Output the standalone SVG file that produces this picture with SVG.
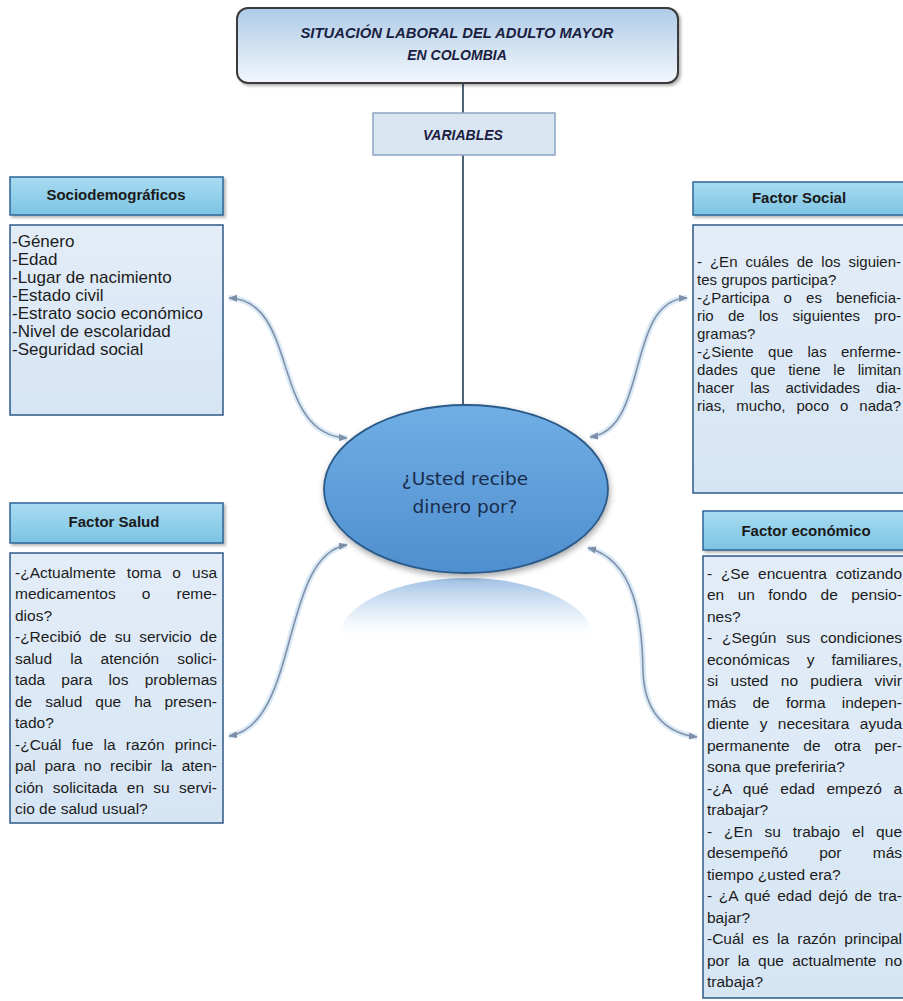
<svg xmlns="http://www.w3.org/2000/svg" width="903" height="1001" viewBox="0 0 903 1001">
<defs>
<linearGradient id="gTitle" x1="0" y1="0" x2="0" y2="1"><stop offset="0" stop-color="#aecbe8"/><stop offset="1" stop-color="#f2f7fc"/></linearGradient>
<linearGradient id="gHead" x1="0" y1="0" x2="0" y2="1"><stop offset="0" stop-color="#a9dcf1"/><stop offset="1" stop-color="#7cc3e3"/></linearGradient>
<linearGradient id="gBody" x1="0" y1="0" x2="0" y2="1"><stop offset="0" stop-color="#e3edf8"/><stop offset="1" stop-color="#d6e5f4"/></linearGradient>
<linearGradient id="gEll" x1="0" y1="0" x2="0" y2="1"><stop offset="0" stop-color="#70aee5"/><stop offset="1" stop-color="#4f8fcf"/></linearGradient>
<linearGradient id="gRefl" x1="0" y1="0" x2="0" y2="1"><stop offset="0" stop-color="#8fb6e0" stop-opacity="0.85"/><stop offset="0.6" stop-color="#d7e6f5" stop-opacity="0.6"/><stop offset="1" stop-color="#ffffff" stop-opacity="0"/></linearGradient>
<filter id="sh" x="-10%" y="-10%" width="130%" height="140%"><feDropShadow dx="2" dy="2" stdDeviation="1.5" flood-color="#000" flood-opacity="0.3"/></filter>
<filter id="shE" x="-10%" y="-10%" width="130%" height="140%"><feDropShadow dx="1" dy="3" stdDeviation="3" flood-color="#000" flood-opacity="0.35"/></filter>
<marker id="ah" viewBox="0 0 10 10" refX="9" refY="5" markerWidth="9" markerHeight="9" markerUnits="userSpaceOnUse" orient="auto-start-reverse"><path d="M0,1 L10,5 L0,9 z" fill="#7d8fa9"/></marker>
<style>
.t{font-family:"Liberation Sans",Arial,sans-serif;fill:#1c1c1c}
.h{font-family:"Liberation Sans",Arial,sans-serif;font-weight:bold;font-size:15px;fill:#1a1a1a;text-anchor:middle}
.ti{font-family:"Liberation Sans",Arial,sans-serif;font-weight:bold;font-style:italic;font-size:14px;fill:#1a2040;text-anchor:middle}
.so{font-size:17px}
.fs{font-size:15px}
.fm{font-size:15.5px}
.head{fill:url(#gHead);stroke:#2f6496;stroke-width:1.5}
.body{fill:url(#gBody);stroke:#2e5a86;stroke-width:1.5}
.glow{fill:none;stroke:#c9dff2;stroke-width:6;stroke-opacity:0.7}
.conn{fill:none;stroke:#8190a8;stroke-width:1.6}
.vl{stroke:#4f6377;stroke-width:2}
</style>
</defs>
<rect width="903" height="1001" fill="#ffffff"/>

<g id="connectors">
<line class="vl" x1="463" y1="83" x2="463" y2="113"/>
<line class="vl" x1="463" y1="155" x2="463" y2="405"/>
<path class="glow" d="M229,298 C300,300 270,435 347,438"/>
<path class="conn" d="M229,298 C300,300 270,435 347,438" marker-start="url(#ah)" marker-end="url(#ah)"/>
<path class="glow" d="M590,437 C650,430 625,300 687,298"/>
<path class="conn" d="M590,437 C650,430 625,300 687,298" marker-start="url(#ah)" marker-end="url(#ah)"/>
<path class="glow" d="M347,545 C280,555 300,725 229,736"/>
<path class="conn" d="M347,545 C280,555 300,725 229,736" marker-start="url(#ah)" marker-end="url(#ah)"/>
<path class="glow" d="M588,548 C635,560 642,620 643,670 C644,712 665,733 697,737"/>
<path class="conn" d="M588,548 C635,560 642,620 643,670 C644,712 665,733 697,737" marker-start="url(#ah)" marker-end="url(#ah)"/>
</g>

<g id="title">
<rect x="237" y="8" width="441" height="75" rx="11" fill="url(#gTitle)" stroke="#3a3a3a" stroke-width="2" filter="url(#sh)"/>
<text class="ti" x="457" y="38" textLength="313" lengthAdjust="spacingAndGlyphs">SITUACIÓN LABORAL DEL ADULTO MAYOR</text>
<text class="ti" x="457" y="60">EN COLOMBIA</text>
</g>

<g id="variables">
<rect x="373" y="113" width="182" height="42" fill="#dae5f2" stroke="#8aa4c4" stroke-width="1.5"/>
<text class="ti" x="463" y="140">VARIABLES</text>
</g>

<g id="sociodemograficos-header">
<rect class="head" x="10" y="177" width="213" height="38" filter="url(#sh)"/>
<text class="h" x="116" y="200">Sociodemográficos</text>
</g>
<g id="sociodemograficos-body">
<rect class="body" x="10" y="225" width="213" height="190"/>
<text class="t so" x="12" y="247">-Género</text>
<text class="t so" x="12" y="265">-Edad</text>
<text class="t so" x="12" y="283">-Lugar de nacimiento</text>
<text class="t so" x="12" y="301">-Estado civil</text>
<text class="t so" x="12" y="319">-Estrato socio económico</text>
<text class="t so" x="12" y="337">-Nivel de escolaridad</text>
<text class="t so" x="12" y="355">-Seguridad social</text>
</g>

<g id="social-header">
<rect class="head" x="693" y="182" width="214" height="33" filter="url(#sh)"/>
<text class="h" x="799" y="203">Factor Social</text>
</g>
<g id="social-body">
<rect class="body" x="693" y="225" width="214" height="268"/>
<text class="t fs" x="697" y="267" textLength="204" lengthAdjust="spacing" word-spacing="3.8">- ¿En cuáles de los siguien-</text>
<text class="t fs" x="697" y="285">tes grupos participa?</text>
<text class="t fs" x="697" y="303" textLength="204" lengthAdjust="spacing" word-spacing="9.9">-¿Participa o es beneficia-</text>
<text class="t fs" x="697" y="321" textLength="204" lengthAdjust="spacing" word-spacing="10.2">rio de los siguientes pro-</text>
<text class="t fs" x="697" y="339">gramas?</text>
<text class="t fs" x="697" y="357" textLength="204" lengthAdjust="spacing" word-spacing="10.2">-¿Siente que las enferme-</text>
<text class="t fs" x="697" y="375" textLength="204" lengthAdjust="spacing" word-spacing="8.5">dades que tiene le limitan</text>
<text class="t fs" x="697" y="393" textLength="204" lengthAdjust="spacing" word-spacing="11.9">hacer las actividades dia-</text>
<text class="t fs" x="697" y="411" textLength="204" lengthAdjust="spacing" word-spacing="6.8">rias, mucho, poco o nada?</text>
</g>

<g id="salud-header">
<rect class="head" x="10" y="503" width="213" height="40" filter="url(#sh)"/>
<text class="h" x="114" y="527">Factor Salud</text>
</g>
<g id="salud-body">
<rect class="body" x="10" y="553" width="213" height="270"/>
<text class="t fm" x="15" y="577.5" textLength="202" lengthAdjust="spacing" word-spacing="6.7">-¿Actualmente toma o usa</text>
<text class="t fm" x="15" y="599" textLength="202" lengthAdjust="spacing" word-spacing="21.8">medicamentos o reme-</text>
<text class="t fm" x="15" y="620.5">dios?</text>
<text class="t fm" x="15" y="642" textLength="202" lengthAdjust="spacing" word-spacing="3.8">-¿Recibió de su servicio de</text>
<text class="t fm" x="15" y="663.5" textLength="202" lengthAdjust="spacing" word-spacing="13.9">salud la atención solici-</text>
<text class="t fm" x="15" y="685" textLength="202" lengthAdjust="spacing" word-spacing="11.9">tada para los problemas</text>
<text class="t fm" x="15" y="706.5" textLength="202" lengthAdjust="spacing" word-spacing="8.7">de salud que ha presen-</text>
<text class="t fm" x="15" y="728">tado?</text>
<text class="t fm" x="15" y="749.5" textLength="202" lengthAdjust="spacing" word-spacing="5.9">-¿Cuál fue la razón princi-</text>
<text class="t fm" x="15" y="771" textLength="202" lengthAdjust="spacing" word-spacing="4.4">pal para no recibir la aten-</text>
<text class="t fm" x="15" y="792.5" textLength="202" lengthAdjust="spacing" word-spacing="5">ción solicitada en su servi-</text>
<text class="t fm" x="15" y="814">cio de salud usual?</text>
</g>

<g id="economico-header">
<rect class="head" x="703" y="511" width="204" height="39" filter="url(#sh)"/>
<text class="h" x="806" y="536">Factor económico</text>
</g>
<g id="economico-body">
<rect class="body" x="703" y="556" width="204" height="442"/>
<text class="t fm" x="707" y="578.5" textLength="195" lengthAdjust="spacing" word-spacing="4.4">- ¿Se encuentra cotizando</text>
<text class="t fm" x="707" y="600" textLength="195" lengthAdjust="spacing" word-spacing="9.1">en un fondo de pensio-</text>
<text class="t fm" x="707" y="621.5">nes?</text>
<text class="t fm" x="707" y="643" textLength="195" lengthAdjust="spacing" word-spacing="5.6">- ¿Según sus condiciones</text>
<text class="t fm" x="707" y="664.5" textLength="195" lengthAdjust="spacing" word-spacing="12.7">económicas y familiares,</text>
<text class="t fm" x="707" y="686" textLength="195" lengthAdjust="spacing" word-spacing="8">si usted no pudiera vivir</text>
<text class="t fm" x="707" y="707.5" textLength="195" lengthAdjust="spacing" word-spacing="11.9">más de forma indepen-</text>
<text class="t fm" x="707" y="729" textLength="195" lengthAdjust="spacing" word-spacing="6.1">diente y necesitara ayuda</text>
<text class="t fm" x="707" y="750.5" textLength="195" lengthAdjust="spacing" word-spacing="9.3">permanente de otra per-</text>
<text class="t fm" x="707" y="772">sona que preferiria?</text>
<text class="t fm" x="707" y="793.5" textLength="195" lengthAdjust="spacing" word-spacing="7.2">-¿A qué edad empezó a</text>
<text class="t fm" x="707" y="815">trabajar?</text>
<text class="t fm" x="707" y="836.5" textLength="195" lengthAdjust="spacing" word-spacing="7.6">- ¿En su trabajo el que</text>
<text class="t fm" x="707" y="858" textLength="195" lengthAdjust="spacing" word-spacing="26.9">desempeñó por más</text>
<text class="t fm" x="707" y="879.5">tiempo ¿usted era?</text>
<text class="t fm" x="707" y="901" textLength="195" lengthAdjust="spacing" word-spacing="2.3">- ¿A qué edad dejó de tra-</text>
<text class="t fm" x="707" y="922.5">bajar?</text>
<text class="t fm" x="707" y="944" textLength="195" lengthAdjust="spacing" word-spacing="4">-Cuál es la razón principal</text>
<text class="t fm" x="707" y="965.5" textLength="195" lengthAdjust="spacing" word-spacing="4">por la que actualmente no</text>
<text class="t fm" x="707" y="987">trabaja?</text>
</g>

<g id="center">
<path d="M338,640 A128,62 0 0 1 594,640 Z" fill="url(#gRefl)"/>
<ellipse cx="466" cy="489" rx="142" ry="84" fill="url(#gEll)" stroke="#2c5a88" stroke-width="1.8" filter="url(#shE)"/>
<text x="465" y="485" font-family="DejaVu Sans, sans-serif" font-size="18.5" fill="#1b2b4a" text-anchor="middle">¿Usted recibe</text>
<text x="465" y="513" font-family="DejaVu Sans, sans-serif" font-size="18.5" fill="#1b2b4a" text-anchor="middle">dinero por?</text>
</g>
</svg>
